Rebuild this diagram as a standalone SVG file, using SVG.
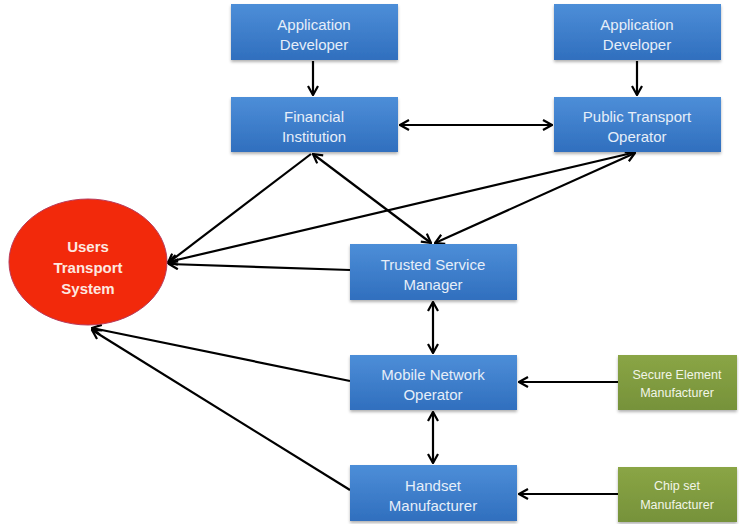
<svg xmlns="http://www.w3.org/2000/svg" width="739" height="524" viewBox="0 0 739 524">
<defs>
<linearGradient id="blue" x1="0" y1="0" x2="0" y2="1">
<stop offset="0" stop-color="#4d8ed8"/>
<stop offset="1" stop-color="#306fbe"/>
</linearGradient>
<linearGradient id="green" x1="0" y1="0" x2="0" y2="1">
<stop offset="0" stop-color="#8aa545"/>
<stop offset="1" stop-color="#76923a"/>
</linearGradient>
<filter id="sh" x="-10%" y="-10%" width="120%" height="130%">
<feDropShadow dx="0" dy="2" stdDeviation="1.5" flood-color="#000" flood-opacity="0.3"/>
</filter>
<marker id="ar" viewBox="0 0 12 12" markerWidth="12" markerHeight="12" refX="11" refY="6" orient="auto-start-reverse" markerUnits="userSpaceOnUse">
<path d="M2,1 L11,6 L2,11" fill="none" stroke="#000" stroke-width="2.2"/>
</marker>
</defs>
<style>
.b{fill:url(#blue);filter:url(#sh)}
.g{fill:url(#green);filter:url(#sh)}
.t{font-family:"Liberation Sans",Arial,sans-serif;font-size:15px;fill:#e6eef9;text-anchor:middle}
.s{font-family:"Liberation Sans",Arial,sans-serif;font-size:12.5px;fill:#f2f5e8;text-anchor:middle}
.u{font-family:"Liberation Sans",Arial,sans-serif;font-size:15px;font-weight:bold;fill:#fde8e0;text-anchor:middle}
.c{stroke:#000;stroke-width:2.2;fill:none}
</style>
<rect width="739" height="524" fill="#fff"/>
<g id="connectors">
<line class="c" x1="313" y1="61" x2="313" y2="95" marker-end="url(#ar)"/>
<line class="c" x1="637" y1="61" x2="637" y2="95" marker-end="url(#ar)"/>
<line class="c" x1="400" y1="125" x2="552" y2="125" marker-start="url(#ar)" marker-end="url(#ar)"/>
<line class="c" x1="313" y1="154" x2="431" y2="243" marker-start="url(#ar)" marker-end="url(#ar)"/>
<line class="c" x1="635" y1="153" x2="435" y2="243" marker-start="url(#ar)" marker-end="url(#ar)"/>
<line class="c" x1="311" y1="154" x2="168" y2="263" marker-end="url(#ar)"/>
<line class="c" x1="632" y1="153" x2="168" y2="262" marker-end="url(#ar)"/>
<line class="c" x1="350" y1="270" x2="169" y2="264" marker-end="url(#ar)"/>
<line class="c" x1="433" y1="302" x2="433" y2="353" marker-start="url(#ar)" marker-end="url(#ar)"/>
<line class="c" x1="433" y1="412" x2="433" y2="463" marker-start="url(#ar)" marker-end="url(#ar)"/>
<line class="c" x1="618" y1="382" x2="519" y2="382" marker-end="url(#ar)"/>
<line class="c" x1="618" y1="494" x2="519" y2="494" marker-end="url(#ar)"/>
<line class="c" x1="350" y1="381" x2="92" y2="328" marker-end="url(#ar)"/>
<line class="c" x1="350" y1="490" x2="92" y2="330" marker-end="url(#ar)"/>
</g>
<g id="appdev1"><rect class="b" x="231" y="4" width="167" height="56"/><text class="t" x="314" y="30">Application</text><text class="t" x="314" y="50">Developer</text></g>
<g id="appdev2"><rect class="b" x="554" y="4" width="167" height="56"/><text class="t" x="637" y="30">Application</text><text class="t" x="637" y="50">Developer</text></g>
<g id="financial"><rect class="b" x="231" y="97" width="167" height="55"/><text class="t" x="314" y="122">Financial</text><text class="t" x="314" y="142">Institution</text></g>
<g id="pto"><rect class="b" x="554" y="97" width="167" height="55"/><text class="t" x="637" y="122">Public Transport</text><text class="t" x="637" y="142">Operator</text></g>
<g id="users"><ellipse cx="88" cy="262" rx="79" ry="63" fill="#f2290b" stroke="#b83a5a" stroke-width="1"/><text class="u" x="88" y="252">Users</text><text class="u" x="88" y="273">Transport</text><text class="u" x="88" y="294">System</text></g>
<g id="tsm"><rect class="b" x="350" y="244" width="167" height="56"/><text class="t" x="433" y="270">Trusted Service</text><text class="t" x="433" y="290">Manager</text></g>
<g id="mno"><rect class="b" x="350" y="355" width="167" height="55"/><text class="t" x="433" y="380">Mobile Network</text><text class="t" x="433" y="400">Operator</text></g>
<g id="handset"><rect class="b" x="350" y="465" width="167" height="56"/><text class="t" x="433" y="491">Handset</text><text class="t" x="433" y="511">Manufacturer</text></g>
<g id="secure"><rect class="g" x="618" y="355" width="119" height="55"/><text class="s" x="677" y="379">Secure Element</text><text class="s" x="677" y="397">Manufacturer</text></g>
<g id="chipset"><rect class="g" x="618" y="467" width="119" height="55"/><text class="s" x="677" y="490">Chip set</text><text class="s" x="677" y="509">Manufacturer</text></g>
</svg>
